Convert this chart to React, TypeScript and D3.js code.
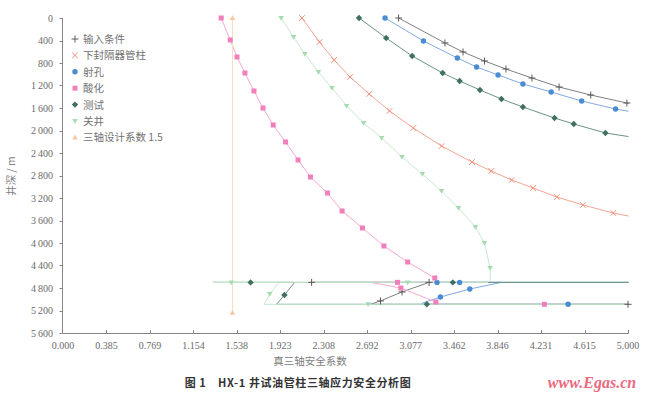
import React from 'react';
import * as d3 from 'd3';

type P = [number, number, number];

const xTickLabels = ['0.000', '0.385', '0.769', '1.154', '1.538', '1.923', '2.308', '2.692', '3.077', '3.462', '3.846', '4.231', '4.615', '5.000'];
const yTickValues = [0, 400, 800, 1200, 1600, 2000, 2400, 2800, 3200, 3600, 4000, 4400, 4800, 5200, 5600];

const inputCond: P[] = [
  [2.97, 0, 1], [3.38, 444, 1], [3.54, 604, 1], [3.73, 764, 1], [3.92, 907, 1], [4.15, 1067, 1], [4.39, 1227, 1], [4.67, 1369, 1], [4.99, 1511, 1],
  [5.4, 1700, 0], [5.4, 4700, 0], [2.2, 4700, 1], [3.24, 4700, 1], [3.0, 4870, 1], [2.81, 5030, 1], [2.72, 5090, 0], [5.0, 5090, 1], [5.4, 5090, 0],
];
const lowerPacker: P[] = [
  [2.115, 0, 1], [2.27, 427, 1], [2.4, 747, 1], [2.54, 1049, 1], [2.71, 1351, 1], [2.89, 1653, 1], [3.1, 1956, 1], [3.35, 2276, 1], [3.62, 2560, 1],
  [3.79, 2720, 1], [3.97, 2880, 1], [4.16, 3022, 1], [4.37, 3182, 1], [4.6, 3324, 1], [4.87, 3467, 1], [5.3, 3640, 0],
];
const perforation: P[] = [
  [2.85, 0, 1], [3.19, 409, 1], [3.49, 711, 1], [3.66, 871, 1], [3.85, 1013, 1], [4.07, 1173, 1], [4.32, 1316, 1], [4.59, 1476, 1], [4.89, 1618, 1],
  [5.3, 1760, 0], [5.3, 4700, 0], [3.51, 4700, 1], [3.31, 4700, 1], [3.88, 4700, 0], [3.6, 4818, 1], [3.34, 4960, 1], [3.18, 5067, 0], [3.18, 5090, 0],
  [4.47, 5090, 1], [5.3, 5090, 0],
];
const acidizing: P[] = [
  [1.4, 0, 1], [1.48, 391, 1], [1.54, 693, 1], [1.61, 978, 1], [1.69, 1298, 1], [1.77, 1600, 1], [1.86, 1902, 1], [1.97, 2204, 1], [2.08, 2524, 1],
  [2.19, 2827, 1], [2.34, 3111, 1], [2.47, 3431, 1], [2.65, 3733, 1], [2.84, 4053, 1], [3.05, 4338, 1], [3.29, 4622, 1],
  [3.31, 4700, 0], [2.96, 4700, 1], [2.72, 4700, 0], [2.99, 4800, 1], [3.3, 5049, 1], [3.3, 5090, 0], [4.26, 5090, 1], [5.3, 5090, 0],
];
const testing: P[] = [
  [2.62, 0, 1], [2.86, 356, 1], [3.09, 676, 1], [3.36, 978, 1], [3.51, 1120, 1], [3.69, 1280, 1], [3.88, 1440, 1], [4.07, 1582, 1], [4.35, 1778, 1],
  [4.52, 1884, 1], [4.8, 2044, 1], [5.3, 2200, 0], [5.3, 4700, 0], [3.45, 4700, 1], [1.66, 4700, 1], [1.33, 4700, 0], [2.05, 4700, 0],
  [1.96, 4925, 1], [1.89, 5090, 0], [3.22, 5090, 1], [5.3, 5090, 0],
];
const shutIn: P[] = [
  [1.93, 0, 1], [2.04, 338, 1], [2.14, 640, 1], [2.26, 960, 1], [2.38, 1244, 1], [2.51, 1564, 1], [2.66, 1867, 1], [2.82, 2133, 1], [3.0, 2471, 1],
  [3.18, 2773, 1], [3.35, 3076, 1], [3.5, 3378, 1], [3.65, 3716, 1], [3.73, 4000, 1], [3.78, 4444, 1], [3.78, 4660, 0], [3.76, 4700, 0],
  [3.05, 4700, 1], [1.49, 4700, 1], [1.33, 4700, 0], [1.91, 4700, 0], [1.83, 4907, 1], [1.78, 5090, 0], [2.7, 5090, 1], [5.3, 5090, 0],
];
const designFactor: P[] = [[1.5, 0, 1], [1.5, 5240, 1]];

const seriesNames = ['输入条件', '下封隔器管柱', '射孔', '酸化', '测试', '关井', '三轴设计系数 1.5'];
const seriesData = [inputCond, lowerPacker, perforation, acidizing, testing, shutIn, designFactor];
const lineColors = ['#808080', '#f4a592', '#80abe0', '#f7a8d3', '#6b9386', '#c6e9cc', '#fadcbf'];
const markColors = ['#5a5a5a', '#ef8e7a', '#4a8cd4', '#f27fbc', '#40705f', '#a6dbb0', '#f7c9a0'];
const markTypes = ['plus', 'cross', 'circle', 'square', 'diamond', 'tridown', 'triup'];

const W = 650, H = 395;
const x = d3.scaleLinear().domain([0, 5]).range([63, 628]);
const y = d3.scaleLinear().domain([0, 5600]).range([18, 333]);

function Marker({ t, cx, cy, c }: { t: string; cx: number; cy: number; c: string }) {
  switch (t) {
    case 'plus':
      return <path d={`M${cx - 3.5},${cy}H${cx + 3.5}M${cx},${cy - 3.5}V${cy + 3.5}`} stroke={c} strokeWidth={1} />;
    case 'cross':
      return <path d={`M${cx - 2.8},${cy - 2.8}L${cx + 2.8},${cy + 2.8}M${cx - 2.8},${cy + 2.8}L${cx + 2.8},${cy - 2.8}`} stroke={c} strokeWidth={1} />;
    case 'circle':
      return <circle cx={cx} cy={cy} r={2.7} fill={c} />;
    case 'square':
      return <rect x={cx - 2.5} y={cy - 2.5} width={5} height={5} fill={c} />;
    case 'diamond':
      return <path d={`M${cx},${cy - 3.2}L${cx + 3.2},${cy}L${cx},${cy + 3.2}L${cx - 3.2},${cy}Z`} fill={c} />;
    case 'tridown':
      return <path d={`M${cx - 2.8},${cy - 2}L${cx + 2.8},${cy - 2}L${cx},${cy + 2.8}Z`} fill={c} />;
    default:
      return <path d={`M${cx - 2.8},${cy + 2}L${cx + 2.8},${cy + 2}L${cx},${cy - 2.8}Z`} fill={c} />;
  }
}

export default function App() {
  const line = d3.line<P>().x((d) => x(d[0])).y((d) => y(d[1]));
  const serif = '"Liberation Serif", "DejaVu Serif", "Times New Roman", serif';
  const cjk = '"Noto Sans CJK SC", sans-serif';
  return (
    <svg width={W} height={H} style={{ position: 'absolute', left: 0, top: 0, background: '#fff' }}>
      <defs>
        <clipPath id="plot">
          <rect x={63} y={10} width={565.5} height={330} />
        </clipPath>
      </defs>
      <g stroke="#858585" strokeWidth={1} fill="none">
        <path d={`M62.5,${y(0)}V333.5H628.5`} />
        {yTickValues.map((v) => (
          <path key={v} d={`M59.5,${Math.round(y(v)) + 0.5}H62.5`} />
        ))}
        {xTickLabels.map((l, i) => {
          const px = Math.round(x((5 * i) / 13)) + 0.5;
          return i === 0 ? null : <path key={l} d={`M${px},333.5V330`} />;
        })}
      </g>
      <g fontFamily={serif} fontSize={10} fill="#6a6a6a">
        {yTickValues.map((v) => (
          <text key={v} x={53} y={y(v) + 3.5} textAnchor="end">
            {v >= 1000 ? `${Math.floor(v / 1000)}\u2009${String(v % 1000).padStart(3, '0')}` : String(v)}
          </text>
        ))}
        {xTickLabels.map((l, i) => (
          <text key={l} x={x((5 * i) / 13)} y={349} textAnchor="middle">
            {l}
          </text>
        ))}
      </g>
      <text x={310} y={365} textAnchor="middle" fontFamily={cjk} fontSize={10.5} fill="#808080">
        真三轴安全系数
      </text>
      <text transform="translate(15,176) rotate(-90)" textAnchor="middle" fontFamily={cjk} fontSize={10.5} fill="#808080">
        井深 / m
      </text>
      <g clipPath="url(#plot)" fill="none">
        {seriesData.map((s, i) => (
          <path key={i} d={line(s) || ''} stroke={lineColors[i]} strokeWidth={1} />
        ))}
      </g>
      <g>
        {seriesData.map((s, i) =>
          s.filter((d) => d[2] === 1 && d[0] <= 5.001).map((d, j) => (
            <Marker key={`${i}-${j}`} t={markTypes[i]} cx={x(d[0])} cy={y(d[1])} c={markColors[i]} />
          ))
        )}
      </g>
      <g fontFamily={cjk} fontSize={10.5} fill="#727272">
        {seriesNames.map((n, i) => {
          const ly = 39 + i * 16.4;
          return (
            <g key={n}>
              <Marker t={markTypes[i]} cx={75} cy={ly} c={markColors[i]} />
              <text x={83} y={ly + 4}>
                {n}
              </text>
            </g>
          );
        })}
      </g>
      <text x={298} y={387} textAnchor="middle" fontFamily={cjk} fontSize={11} fontWeight="bold" fill="#333" letterSpacing={0.6}>
        图 1{'\u2003'}HX-1 井试油管柱三轴应力安全分析图
      </text>
      <text x={592} y={388} textAnchor="middle" fontFamily={serif} fontSize={16} fontStyle="italic" fontWeight="bold" fill="#e8506a" opacity={0.85}>
        www.Egas.cn
      </text>
    </svg>
  );
}
